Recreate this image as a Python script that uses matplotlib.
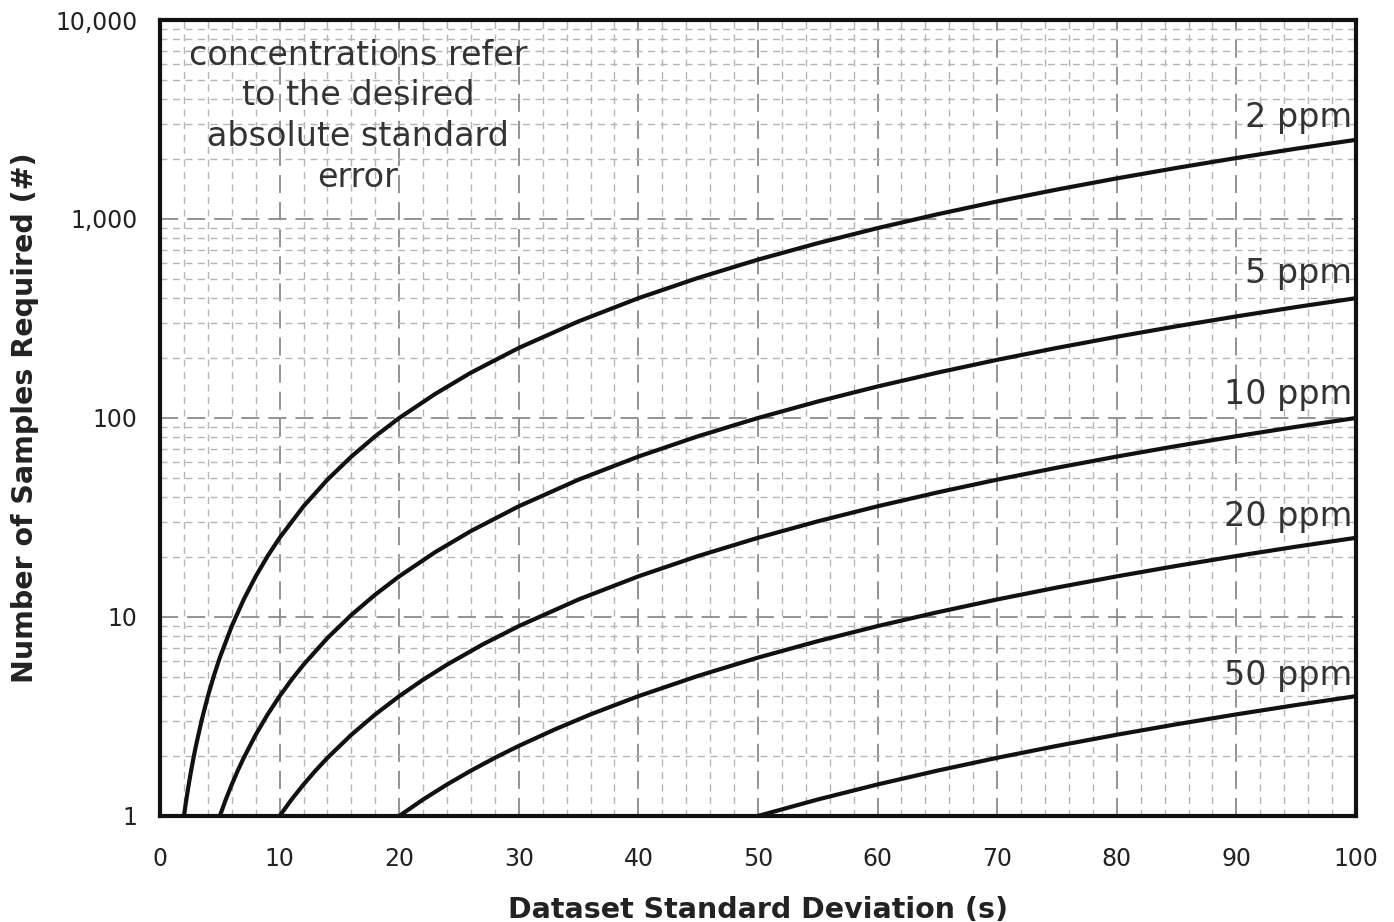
import numpy as np
import matplotlib
matplotlib.use('Agg')
import matplotlib.pyplot as plt
from matplotlib.ticker import MultipleLocator, LogLocator, FixedLocator, FuncFormatter, NullFormatter

# curves: required samples vs dataset standard deviation, per desired standard error
labels = ['2 ppm', '5 ppm', '10 ppm', '20 ppm', '50 ppm']

s_2 = [2, 2.2, 2.4, 2.6, 2.8, 3, 3.5, 4, 4.5, 5, 6, 7, 8, 9, 10, 12, 14, 16, 18, 20,
       23, 26, 30, 35, 40, 45, 50, 55, 60, 65, 70, 75, 80, 85, 90, 95, 100]
n_2 = [1, 1.21, 1.44, 1.69, 1.96, 2.25, 3.06, 4, 5.06, 6.25, 9, 12.25, 16, 20.25, 25, 36, 49, 64, 81, 100,
       132, 169, 225, 306, 400, 506, 625, 756, 900, 1056, 1225, 1406, 1600, 1806, 2025, 2256, 2500]

s_5 = [5, 5.5, 6, 6.5, 7, 8, 9, 10, 11, 12, 14, 16, 18, 20, 23, 26, 30, 35, 40, 45,
       50, 55, 60, 65, 70, 75, 80, 85, 90, 95, 100]
n_5 = [1, 1.21, 1.44, 1.69, 1.96, 2.56, 3.24, 4, 4.84, 5.76, 7.84, 10.24, 12.96, 16, 21.16, 27.04, 36, 49, 64, 81,
       100, 121, 144, 169, 196, 225, 256, 289, 324, 361, 400]

s_10 = [10, 11, 12, 13, 14, 16, 18, 20, 22, 24, 27, 30, 35, 40, 45, 50, 55, 60, 65, 70,
        75, 80, 85, 90, 95, 100]
n_10 = [1, 1.21, 1.44, 1.69, 1.96, 2.56, 3.24, 4, 4.84, 5.76, 7.29, 9, 12.25, 16, 20.25, 25, 30.25, 36, 42.25, 49,
        56.25, 64, 72.25, 81, 90.25, 100]

s_20 = [20, 22, 24, 26, 28, 30, 33, 36, 40, 45, 50, 55, 60, 65, 70, 75, 80, 85, 90, 95, 100]
n_20 = [1, 1.21, 1.44, 1.69, 1.96, 2.25, 2.72, 3.24, 4, 5.06, 6.25, 7.56, 9, 10.56, 12.25, 14.06, 16, 18.06,
        20.25, 22.56, 25]

s_50 = [50, 55, 60, 65, 70, 75, 80, 85, 90, 95, 100]
n_50 = [1, 1.21, 1.44, 1.69, 1.96, 2.25, 2.56, 2.89, 3.24, 3.61, 4]

y_ticks = [1, 10, 100, 1000, 10000]
x_ticks = [0, 10, 20, 30, 40, 50, 60, 70, 80, 90, 100]

note = 'concentrations refer\nto the desired\nabsolute standard\nerror'

fig = plt.figure(figsize=(13.94, 9.22), dpi=100)
ax = fig.add_axes([0.1148, 0.115, 0.8579, 0.8633])

curves = [(s_2, n_2), (s_5, n_5), (s_10, n_10), (s_20, n_20), (s_50, n_50)]
for s, n in curves:
    ax.plot(s, n, color='#111111', lw=3.0, solid_capstyle='butt',
            solid_joinstyle='round', zorder=3)

ax.set_yscale('log')
ax.set_xlim(0, 100)
ax.set_ylim(1, 10000)

ax.xaxis.set_major_locator(FixedLocator(x_ticks))
ax.xaxis.set_minor_locator(MultipleLocator(2))
ax.yaxis.set_major_locator(FixedLocator(y_ticks))
ax.yaxis.set_minor_locator(LogLocator(base=10, subs=np.arange(2, 10)))
ax.yaxis.set_major_formatter(FuncFormatter(lambda v, p: '{:,.0f}'.format(v)))
ax.yaxis.set_minor_formatter(NullFormatter())

ax.grid(which='major', color='#8a8a8a', lw=1.3, dashes=(10, 5))
ax.grid(which='minor', color='#b5b5b5', lw=1.0, dashes=(5, 4))
ax.set_axisbelow(True)

ax.tick_params(which='both', length=0)
ax.tick_params(axis='x', labelsize=17, pad=22, colors='#222222')
ax.tick_params(axis='y', labelsize=17, pad=16, colors='#222222')

for sp in ax.spines.values():
    sp.set_linewidth(3.0)
    sp.set_color('#111111')
    sp.set_zorder(4)

ax.set_xlabel('Dataset Standard Deviation (s)', fontsize=20.5, fontweight='bold',
              color='#222222', labelpad=18)
ax.set_ylabel('Number of Samples Required (#)', fontsize=20.5, fontweight='bold',
              color='#222222', labelpad=12)

ax.text(0.1655, 0.879, note, transform=ax.transAxes, ha='center', va='center',
        fontsize=24, color='#333333', linespacing=1.3)

label_y = [3250, 535, 131, 32, 5.1]
for lab, y in zip(labels, label_y):
    ax.text(99.7, y, lab, ha='right', va='center', fontsize=24, color='#333333')

fig.savefig('out.png', dpi=100, facecolor='white')
